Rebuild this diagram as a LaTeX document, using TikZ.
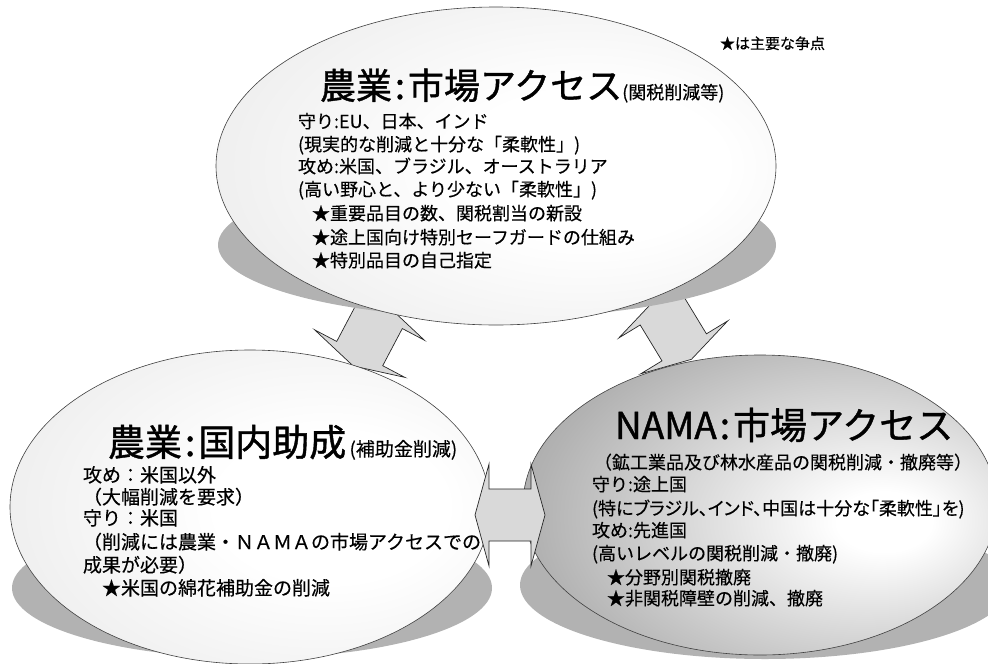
\documentclass[tikz,border=0pt]{standalone}
\usepackage{fontspec}
\setmainfont{Noto Sans CJK JP}[FakeBold=0.35]
\newfontfamily\jpprop{Noto Sans CJK JP}[RawFeature=+palt, FakeBold=0.35]
\newfontfamily\jptitle{Noto Sans CJK JP}[FakeBold=1.1]
\usetikzlibrary{shapes.geometric}
\pgfdeclareradialshading{lightball}{\pgfpoint{10bp}{0bp}}{color(0bp)=(white); color(12bp)=(white); color(40bp)=(black!9); color(60bp)=(black!22); color(80bp)=(black!24)}
\pgfdeclareradialshading{darkball}{\pgfpoint{14bp}{-3bp}}{color(0bp)=(white); color(5bp)=(white); color(32bp)=(black!30); color(55bp)=(black!50); color(80bp)=(black!52)}
\newcommand\fsz[1]{\fontsize{#1pt}{#1pt}\selectfont}
\newcommand\tcolon{\hspace{3pt}:\hspace{3pt}}
\begin{document}
\begin{tikzpicture}[x=1pt,y=-1pt,
  txt/.style={anchor=base west, inner sep=0pt, outer sep=0pt, text=black},
  shadowst/.style={ellipse, fill=black!30, inner sep=0pt, outer sep=0pt},
  bigell/.style={ellipse, draw=black!75, line width=0.6pt, inner sep=0pt, outer sep=0pt},
  arrowst/.style={fill=black!15, draw=black!85, line width=0.7pt, line join=miter},
  dblarrow/.pic={\path[arrowst] (-35,0) -- (-21,51) -- (-21,26) -- (21,26) -- (21,51) -- (35,0) -- (21,-51) -- (21,-26) -- (-21,-26) -- (-21,-51) -- cycle;}
]
\useasboundingbox (0,0) rectangle (988,664);

% connector anchor points
\coordinate (a1) at (369.5,335);
\coordinate (a2) at (673.3,329.4);
\coordinate (a3) at (510,515);

% diagonal double arrows (behind the ellipses)
\pic[rotate=-117.8] at (a1) {dblarrow};
\pic[rotate=-58.7] at (a2) {dblarrow};

% shadows
\node[shadowst, minimum width=558pt, minimum height=146pt] (topsh) at (497,245) {};
\node[shadowst, minimum width=480pt, minimum height=140pt] (leftsh) at (252,588) {};
\node[shadowst, minimum width=490pt, minimum height=148pt] (namash) at (765,585) {};

% main ellipses
\node[bigell, shading=lightball, minimum width=560pt, minimum height=318pt] (top) at (496,166) {};
\node[bigell, shading=lightball, minimum width=480pt, minimum height=314pt] (left) at (250,507) {};
\node[bigell, shading=darkball, minimum width=474pt, minimum height=300pt] (nama) at (760,505) {};

% horizontal double arrow (on top)
\pic at (a3) {dblarrow};

% note
\node[txt] (note) at (720,49) {\fsz{15}★は主要な争点};

% top ellipse text
\node[txt] (t0) at (320,99) {{\jptitle\fsz{36}農業\tcolon 市場アクセス}\fsz{18}(関税削減等)};
\node[txt] (t1) at (298,128) {\fsz{18}守り:EU、日本、インド};
\node[txt] (t2) at (298,151) {\fsz{18}(現実的な削減と十分な「柔軟性」)};
\node[txt] (t3) at (298,173) {\fsz{18}攻め:米国、ブラジル、オーストラリア};
\node[txt] (t4) at (298,196) {\fsz{18}(高い野心と、より少ない「柔軟性」)};
\node[txt] (t5) at (312,220) {\fsz{18}★重要品目の数、関税割当の新設};
\node[txt] (t6) at (312,244) {\fsz{18}★途上国向け特別セーフガードの仕組み};
\node[txt] (t7) at (312,267) {\fsz{18}★特別品目の自己指定};

% left ellipse text
\node[txt] (l0) at (108,456) {{\jptitle\fsz{37}農業\tcolon 国内助成}\fsz{19}\,(補助金削減)};
\node[txt] (l1) at (83,482) {\fsz{19}攻め：米国以外};
\node[txt] (l2) at (83,504) {\fsz{19}（大幅削減を要求）};
\node[txt] (l3) at (83,525) {\fsz{19}守り：米国};
\node[txt] (l4) at (83,549) {\fsz{19}（削減には農業・ＮＡＭＡの市場アクセスでの};
\node[txt] (l5) at (83,572) {\fsz{19}成果が必要）};
\node[txt] (l6) at (83,595) {\fsz{19}　★米国の綿花補助金の削減};

% NAMA ellipse text
\node[txt] (n0) at (615,439) {\jptitle\fsz{37}NAMA\tcolon 市場アクセス};
\node[txt] (n1) at (594,469) {\fsz{18}（鉱工業品及び林水産品の関税削減・撤廃等）};
\node[txt] (n2) at (592,491) {\fsz{18}守り:途上国};
\node[txt] (n3) at (592,515) {\jpprop\fsz{18}(特にブラジル、インド、中国は十分な「柔軟性」を)};
\node[txt] (n4) at (592,537) {\fsz{18}攻め:先進国};
\node[txt] (n5) at (592,560) {\fsz{18}(高いレベルの関税削減・撤廃)};
\node[txt] (n6) at (607,584) {\fsz{18}★分野別関税撤廃};
\node[txt] (n7) at (607,605) {\fsz{18}★非関税障壁の削減、撤廃};
\end{tikzpicture}
\end{document}
